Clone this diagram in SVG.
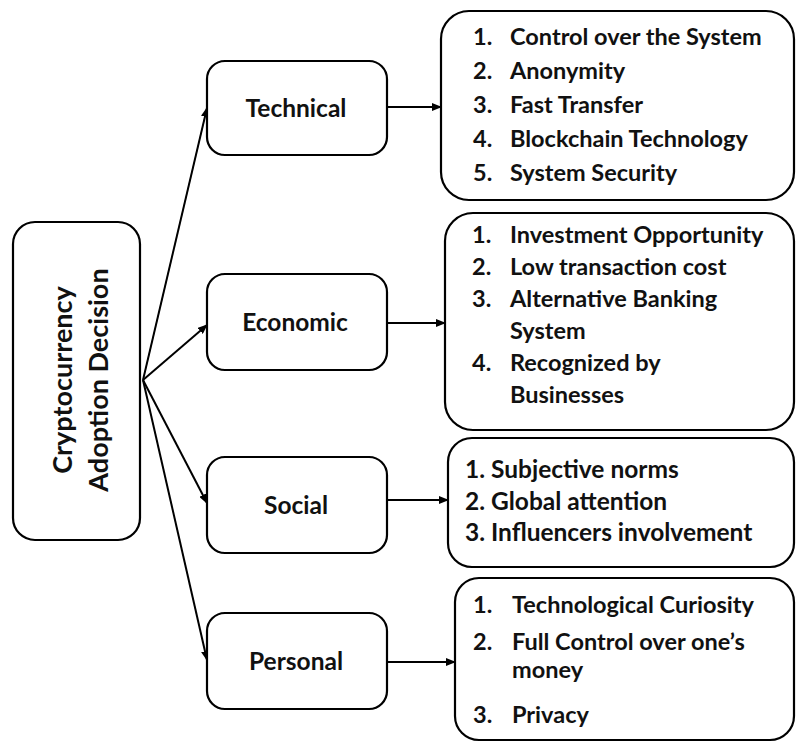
<svg xmlns="http://www.w3.org/2000/svg" width="796" height="742" viewBox="0 0 796 742">
<style>
.box{fill:#fff;stroke:#000;stroke-width:2.2}
.lbl{font-family:Lato,"Open Sans","Liberation Sans",sans-serif;font-weight:bold;fill:#111;font-size:24.5px;text-anchor:middle}
.lst{font-family:Lato,"Open Sans","Liberation Sans",sans-serif;font-weight:bold;fill:#111;font-size:23.5px}
.soc{font-size:24.5px}
.main{font-family:Lato,"Open Sans","Liberation Sans",sans-serif;font-weight:bold;fill:#111;font-size:27px;text-anchor:middle}
.con{stroke:#000;stroke-width:2;fill:none;marker-end:url(#ah)}
</style>
<defs>
<marker id="ah" markerUnits="userSpaceOnUse" markerWidth="10" markerHeight="8" refX="9" refY="4" orient="auto">
<path d="M0,0 L10,4 L0,8 Z" fill="#000"/>
</marker>
</defs>
<rect width="796" height="742" fill="#fff"/>
<g id="connectors">
<line class="con" x1="143" y1="380" x2="207" y2="108"/>
<line class="con" x1="143" y1="380" x2="207" y2="325"/>
<line class="con" x1="143" y1="380" x2="207" y2="503"/>
<line class="con" x1="143" y1="380" x2="207" y2="660"/>
<line class="con" x1="387" y1="107" x2="441" y2="107"/>
<line class="con" x1="387" y1="323" x2="445" y2="323"/>
<line class="con" x1="387" y1="500" x2="448" y2="500"/>
<line class="con" x1="387" y1="662" x2="455" y2="662"/>
</g>
<g id="main">
<rect class="box" x="13" y="222" width="127" height="318" rx="22"/>
<text class="main" transform="translate(72,380) rotate(-90)">Cryptocurrency</text>
<text class="main" transform="translate(108,380) rotate(-90)">Adoption Decision</text>
</g>
<g id="technical">
<rect class="box" x="207" y="61" width="180" height="94" rx="18"/>
<text class="lbl" x="296" y="117">Technical</text>
</g>
<g id="economic">
<rect class="box" x="207" y="274" width="180" height="96" rx="18"/>
<text class="lbl" x="295" y="331">Economic</text>
</g>
<g id="social">
<rect class="box" x="207" y="457" width="180" height="96" rx="18"/>
<text class="lbl" x="296" y="514">Social</text>
</g>
<g id="personal">
<rect class="box" x="207" y="613" width="180" height="96" rx="18"/>
<text class="lbl" x="296" y="670">Personal</text>
</g>
<g id="technical-list">
<rect class="box" x="441" y="11" width="353" height="189" rx="28"/>
<text class="lst" x="473" y="45">1.</text><text class="lst" x="510" y="45">Control over the System</text>
<text class="lst" x="473" y="79">2.</text><text class="lst" x="510" y="79">Anonymity</text>
<text class="lst" x="473" y="113">3.</text><text class="lst" x="510" y="113">Fast Transfer</text>
<text class="lst" x="473" y="147">4.</text><text class="lst" x="510" y="147">Blockchain Technology</text>
<text class="lst" x="473" y="181">5.</text><text class="lst" x="510" y="181">System Security</text>
</g>
<g id="economic-list">
<rect class="box" x="445" y="213" width="349" height="217" rx="28"/>
<text class="lst" x="472" y="243">1.</text><text class="lst" x="510" y="243">Investment Opportunity</text>
<text class="lst" x="472" y="275">2.</text><text class="lst" x="510" y="275">Low transaction cost</text>
<text class="lst" x="472" y="307">3.</text><text class="lst" x="510" y="307">Alternative Banking</text>
<text class="lst" x="510" y="339">System</text>
<text class="lst" x="472" y="371">4.</text><text class="lst" x="510" y="371">Recognized by</text>
<text class="lst" x="510" y="403">Businesses</text>
</g>
<g id="social-list">
<rect class="box" x="448" y="438" width="346" height="129" rx="24"/>
<text class="lst soc" x="465" y="478">1. Subjective norms</text>
<text class="lst soc" x="465" y="510">2. Global attention</text>
<text class="lst soc" x="465" y="541">3. Influencers involvement</text>
</g>
<g id="personal-list">
<rect class="box" x="455" y="578" width="339" height="162" rx="24"/>
<text class="lst" x="473" y="613">1.</text><text class="lst" x="512" y="613">Technological Curiosity</text>
<text class="lst" x="473" y="650">2.</text><text class="lst" x="512" y="650">Full Control over one’s</text>
<text class="lst" x="512" y="678">money</text>
<text class="lst" x="473" y="723">3.</text><text class="lst" x="512" y="723">Privacy</text>
</g>
</svg>
